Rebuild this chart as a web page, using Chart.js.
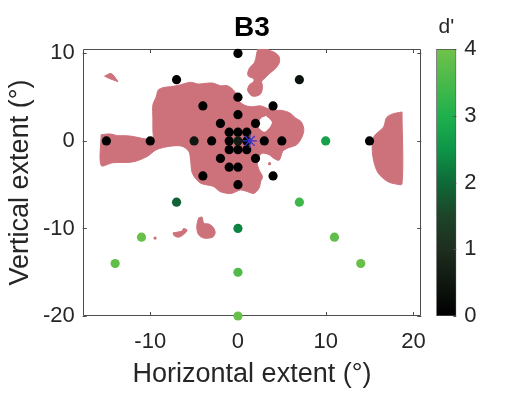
<!DOCTYPE html>
<html>
<head>
<meta charset="utf-8">
<script src="https://cdn.jsdelivr.net/npm/chart.js@4.4.1/dist/chart.umd.min.js"></script>
<style>
  body { margin: 0; background: #fff; }
  #wrap { position: relative; width: 526px; height: 394px; }
  canvas { position: absolute; left: 0; top: 0; }
</style>
</head>
<body>
<div id="wrap">
  <canvas id="rfChart" width="526" height="394"></canvas>
  <canvas id="cbar" width="526" height="394"></canvas>
</div>
<script>
// axis limits and ticks (deg)
const xMin = -17.7, xMax = 20.9;
const yMin = -20, yMax = 10.5;
const xTicks = [-10, 0, 10, 20];
const yTicks = [-20, -10, 0, 10];
const cTicks = [0, 1, 2, 3, 4];

// stimulus positions and d' at each one
const stimX = [0, -7, 7, 0, -4, 4, 0, -2, 2, -1, 0, 1, -15, -10, -5, -3, -1, 0, 1, 3, 5, 10, 15,
               -1, 0, 1, -2, 2, -1, 0, -4, 4, 0, -7, 7, 0, -11, 11, -14, 14, 0, 0];
const stimY = [10, 7, 7, 5, 4, 4, 3, 2, 2, 1, 1, 1, 0, 0, 0, 0, 0, 0, 0, 0, 0, 0, 0,
               -1, -1, -1, -2, -2, -3, -3, -4, -4, -5, -7, -7, -10, -11, -11, -14, -14, -15, -20];
const dPrime = [0, 0, 0.4, 0, 0, 0, 0, 0, 0, 0, 0, 0, 0, 0, 0.5, 0, 0, 0.6, 0, 0, 0, 2.7, 0,
                0, 0, 0, 0, 0, 0, 0, 0, 0, 0, 1.9, 3.4, 2.3, 3.9, 3.8, 3.8, 3.9, 3.6, 3.9];

// fixation / centre marker
const centreX = [1.35];
const centreY = [0];

// receptive field map outlines (deg)
const rfMain = [[-15.6,0.7],[-14.6,0.8],[-13.7,0.6],[-12.8,0.6],[-11.9,0.5],[-11.0,0.3],[-10.3,0.2],[-9.7,0.1],
  [-9.7,1.3],[-9.7,2.6],[-9.7,4.1],[-9.3,5.1],[-9.1,5.8],[-8.5,6.1],[-7.7,6.2],[-6.6,6.4],[-5.4,6.7],[-4.5,6.5],
  [-3.5,6.6],[-2.8,6.6],[-2.0,6.3],[-1.2,6.3],[-0.5,5.8],[-0.1,5.1],[0.0,4.7],[0.7,4.1],[1.5,3.9],[2.6,4.0],
  [3.4,3.7],[4.1,3.5],[4.9,3.5],[5.9,3.2],[6.6,2.6],[7.2,2.2],[7.5,1.4],[7.4,0.7],[7.0,-0.1],[6.6,-0.5],
  [5.7,-0.8],[5.1,-1.2],[4.7,-2.2],[4.1,-2.0],[3.6,-1.6],[2.8,-1.4],[2.4,-1.8],[2.2,-2.5],[2.4,-3.3],[2.8,-4.1],
  [2.6,-4.6],[2.4,-5.4],[1.8,-6.0],[1.1,-5.8],[0.3,-5.6],[-0.8,-6.0],[-2.0,-5.8],[-2.8,-5.2],[-4.3,-4.8],
  [-5.2,-3.7],[-5.4,-2.2],[-5.6,-1.2],[-6.4,-0.6],[-7.7,-0.6],[-9.3,-1.0],[-10.4,-1.8],[-12.0,-2.4],
  [-14.3,-2.5],[-15.6,-2.8]];
const rfHole = [[3.2,2.8],[3.8,2.2],[3.6,1.6],[3.0,1.1],[2.4,1.6],[2.6,2.5]];
const rfTop = [[2.3,10.8],[3.1,10.8],[3.5,10.4],[4.2,10.1],[4.7,9.6],[4.7,8.9],[4.3,8.3],[3.6,7.7],[3.0,7.1],
  [2.7,6.8],[2.8,6.2],[2.6,5.4],[2.0,5.1],[1.5,5.2],[1.1,5.8],[1.3,6.4],[1.8,6.8],[1.8,7.1],[1.2,7.4],
  [1.1,7.7],[1.3,8.3],[1.9,9.0],[2.1,9.8]];
const rfLeft = [[-15.2,7.4],[-14.6,7.7],[-14.3,7.6],[-13.9,7.1],[-13.7,6.8],[-14.3,7.0],[-14.8,7.2]];
const rfRight = [[18.7,3.3],[18.1,3.2],[17.4,3.0],[16.9,2.6],[16.6,1.6],[15.5,0.5],[15.3,-0.8],[15.5,-2.4],
  [16.0,-3.7],[17.0,-4.6],[17.9,-4.9],[18.7,-4.9]];
const rfLow = [[-4.5,-8.8],[-4.1,-8.7],[-3.9,-9.4],[-3.3,-9.5],[-2.8,-9.9],[-2.6,-10.5],[-2.9,-11.0],
  [-3.9,-11.1],[-4.5,-10.7],[-4.7,-9.8]];
const rfWedge = [[-7.4,-10.5],[-6.4,-10.3],[-6.2,-10.0],[-5.8,-10.2],[-6.2,-10.7],[-6.8,-11.0],[-7.3,-10.8]];
const rfSpeckX = [-9.45, 3.6];
const rfSpeckY = [-11.1, -2.6];

// colormap for d' (black -> green)
const cmap = [[0, '#000000'], [1, '#1e2e1f'], [1.5, '#1d4428'], [2, '#0e6a38'], [2.5, '#0e9648'],
              [3, '#1fb04d'], [3.5, '#48b94a'], [4, '#70c24a']];

const FONT = "'Liberation Sans', Arial, Helvetica, sans-serif";
const TEXT = '#262626';
const AXIS = '#4d4d4d';
const PINK = '#cd717b';

function hexToRgb(h) {
    return [parseInt(h.substr(1, 2), 16), parseInt(h.substr(3, 2), 16), parseInt(h.substr(5, 2), 16)];
}

function dColor(v) {
    for (let i = 1; i < cmap.length; i++) {
        if (v <= cmap[i][0]) {
            const t = (v - cmap[i - 1][0]) / (cmap[i][0] - cmap[i - 1][0]);
            const a = hexToRgb(cmap[i - 1][1]), b = hexToRgb(cmap[i][1]);
            const c = a.map((s, k) => Math.round(s + (b[k] - s) * t));
            return `rgb(${c[0]},${c[1]},${c[2]})`;
        }
    }
    return cmap[cmap.length - 1][1];
}

function outline(pts, color) {
    const data = pts.map(p => ({ x: p[0], y: p[1] }));
    data.push({ x: pts[0][0], y: pts[0][1] });
    return {
        data: data,
        showLine: true,
        fill: 'shape',
        backgroundColor: color,
        borderColor: color,
        borderWidth: 1,
        pointRadius: 0,
        tension: 0.3,
    };
}

// box round the plot, with inward ticks on all four sides
const boxTicks = {
    id: 'boxTicks',
    beforeDatasetsDraw(chart) {
        const { ctx, chartArea: a, scales: { x, y } } = chart;
        ctx.save();
        ctx.strokeStyle = AXIS;
        ctx.lineWidth = 1;
        ctx.beginPath();
        ctx.rect(Math.round(a.left) + 0.5, Math.round(a.top) + 0.5,
                 Math.round(a.right) - Math.round(a.left) - 1, Math.round(a.bottom) - Math.round(a.top) - 1);
        xTicks.forEach(v => {
            const px = Math.round(x.getPixelForValue(v)) + 0.5;
            ctx.moveTo(px, a.bottom); ctx.lineTo(px, a.bottom - 4);
            ctx.moveTo(px, a.top); ctx.lineTo(px, a.top + 4);
        });
        yTicks.forEach(v => {
            const py = Math.round(y.getPixelForValue(v)) + 0.5;
            ctx.moveTo(a.left, py); ctx.lineTo(a.left + 4, py);
            ctx.moveTo(a.right, py); ctx.lineTo(a.right - 4, py);
        });
        ctx.stroke();
        ctx.restore();
    }
};

const tickFont = { family: FONT, size: 22 };
const labelFont = { family: FONT, size: 27 };

new Chart(document.getElementById('rfChart'), {
    type: 'scatter',
    data: {
        datasets: [
            {
                data: centreX.map((v, i) => ({ x: v, y: centreY[i] })),
                pointStyle: 'star',
                pointRadius: 7,
                borderColor: '#3535d0',
                backgroundColor: 'rgba(0,0,0,0)',
                borderWidth: 1.3,
            },
            {
                data: stimX.map((v, i) => ({ x: v, y: stimY[i] })),
                pointRadius: 4.6,
                borderWidth: 0,
                backgroundColor: dPrime.map(dColor),
                clip: false,
            },
            {
                data: rfSpeckX.map((v, i) => ({ x: v, y: rfSpeckY[i] })),
                pointRadius: 1.6,
                borderWidth: 0,
                backgroundColor: PINK,
            },
            outline(rfHole, '#ffffff'),
            outline(rfMain, PINK),
            outline(rfTop, PINK),
            outline(rfLeft, PINK),
            outline(rfRight, PINK),
            outline(rfLow, PINK),
            outline(rfWedge, PINK),
        ],
    },
    options: {
        responsive: false,
        animation: false,
        events: [],
        layout: { padding: { left: 0, top: 0, right: 104.7, bottom: 0 } },
        plugins: {
            legend: { display: false },
            tooltip: { enabled: false },
            title: {
                display: true,
                text: 'B3',
                fullSize: false,
                color: '#000',
                font: { family: FONT, size: 28, weight: 'bold' },
                padding: { top: 11, bottom: 4.4 },
            },
        },
        scales: {
            x: {
                type: 'linear',
                min: xMin,
                max: xMax,
                grid: { display: false, drawTicks: false },
                border: { display: false },
                afterBuildTicks: s => { s.ticks = xTicks.map(v => ({ value: v })); },
                afterFit: s => { s.height = 78; },
                ticks: { font: tickFont, color: TEXT, padding: 13, autoSkip: false, maxRotation: 0 },
                title: { display: true, text: 'Horizontal extent (°)', font: labelFont, color: TEXT,
                         padding: { top: 0, bottom: 3 } },
            },
            y: {
                type: 'linear',
                min: yMin,
                max: yMax,
                grid: { display: false, drawTicks: false },
                border: { display: false },
                afterBuildTicks: s => { s.ticks = yTicks.map(v => ({ value: v })); },
                afterFit: s => { s.width = 82.7; },
                ticks: { font: tickFont, color: TEXT, padding: 8, autoSkip: false },
                title: { display: true, text: 'Vertical extent (°)', font: labelFont, color: TEXT,
                         padding: { top: 4, bottom: 0 } },
            },
        },
    },
    plugins: [boxTicks],
});

// colour bar
const cbarExtras = {
    id: 'cbarExtras',
    afterDraw(chart) {
        const { ctx, chartArea: a, scales: { y } } = chart;
        ctx.save();
        ctx.strokeStyle = AXIS;
        ctx.lineWidth = 1;
        ctx.beginPath();
        cTicks.forEach(v => {
            const py = Math.round(y.getPixelForValue(v)) + 0.5;
            ctx.moveTo(a.right, py); ctx.lineTo(a.right - 3, py);
        });
        ctx.stroke();
        ctx.fillStyle = TEXT;
        ctx.font = `21px ${FONT}`;
        ctx.textAlign = 'center';
        ctx.textBaseline = 'middle';
        ctx.fillText("d'", (a.left + a.right) / 2, 27);
        ctx.restore();
    }
};

new Chart(document.getElementById('cbar'), {
    type: 'bar',
    data: {
        labels: [''],
        datasets: [{
            data: [[cTicks[0], cTicks[cTicks.length - 1]]],
            backgroundColor: c => {
                const a = c.chart.chartArea;
                if (!a) return cmap[0][1];
                const g = c.chart.ctx.createLinearGradient(0, a.bottom, 0, a.top);
                cmap.forEach(s => g.addColorStop(s[0] / cTicks[cTicks.length - 1], s[1]));
                return g;
            },
            borderColor: AXIS,
            borderWidth: 1,
            borderSkipped: false,
            barPercentage: 1,
            categoryPercentage: 1,
        }],
    },
    options: {
        responsive: false,
        animation: false,
        events: [],
        layout: { padding: { left: 436.3, top: 49, right: 0, bottom: 78 } },
        plugins: { legend: { display: false }, tooltip: { enabled: false } },
        scales: {
            x: { display: false },
            y: {
                position: 'right',
                min: cTicks[0],
                max: cTicks[cTicks.length - 1],
                grid: { display: false, drawTicks: false },
                border: { display: false },
                afterBuildTicks: s => { s.ticks = cTicks.map(v => ({ value: v })); },
                afterFit: s => { s.width = 69.7; },
                ticks: { font: tickFont, color: TEXT, padding: 8 },
            },
        },
    },
    plugins: [cbarExtras],
});
</script>
</body>
</html>
